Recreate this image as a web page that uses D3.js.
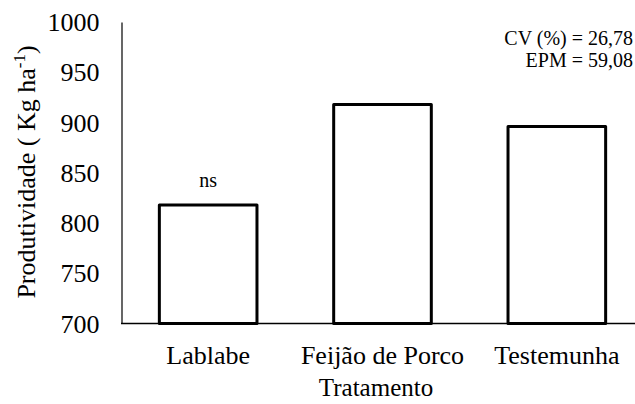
<!DOCTYPE html>
<html><head><meta charset="utf-8">
<script src="https://cdn.jsdelivr.net/npm/d3@7"></script>
<style>
body{margin:0;background:#fff;}
svg text, svg tspan { font-family: 'Liberation Serif', 'Times New Roman', serif !important; }
</style></head>
<body><svg id="c" width="635" height="404" style="font-family:'Liberation Serif', serif"></svg>
<script>
const categories = ["Lablabe", "Feijão de Porco", "Testemunha"];
const values = [818, 918, 896];
const barLabels = ["ns", "", ""];
const yTicks = [700, 750, 800, 850, 900, 950, 1000];
const statsText = ["CV (%) = 26,78", "EPM = 59,08"];

const svg = d3.select("#c");
const x = d3.scaleBand().domain(categories).range([121, 644]).paddingInner(0.44).paddingOuter(0.22);
const y = d3.scaleLinear().domain([700, 1000]).range([323.5, 22]);

// bars
svg.selectAll("rect.bar").data(values).enter().append("rect")
  .attr("x", (d,i) => x(categories[i]))
  .attr("width", x.bandwidth())
  .attr("y", d => y(d))
  .attr("height", d => y(700) - y(d))
  .attr("fill", "#fff").attr("stroke", "#000").attr("stroke-width", 3)
  .attr("stroke-linejoin", "round");

// y axis
const yAxis = d3.axisLeft(y).tickValues(yTicks).tickSize(0).tickPadding(22).tickFormat(d3.format("d"));
const gy = svg.append("g").attr("transform", "translate(121.5,0)").call(yAxis);
gy.attr("font-family", null).attr("font-size", null);
gy.select(".domain").attr("stroke", "#000").attr("stroke-width", 1.2);
gy.selectAll("text").attr("fill", "#000").attr("font-size", 26).attr("dy", "0.33em");

// x axis line
svg.append("line").attr("x1", 121).attr("x2", 635).attr("y1", y(700)).attr("y2", y(700))
  .attr("stroke", "#000").attr("stroke-width", 1.5);

// x labels
svg.selectAll("text.xl").data(categories).enter().append("text")
  .attr("x", d => x(d) + x.bandwidth()/2).attr("y", 364)
  .attr("text-anchor", "middle").attr("font-size", 26).text(d => d);

// bar annotations
svg.selectAll("text.bl").data(values).enter().append("text")
  .attr("x", (d,i) => x(categories[i]) + x.bandwidth()/2)
  .attr("y", d => y(d) - 17.5)
  .attr("text-anchor", "middle").attr("font-size", 20)
  .text((d,i) => barLabels[i]);

// x title
svg.append("text").attr("x", 376).attr("y", 396).attr("text-anchor", "middle")
  .attr("font-size", 25).text("Tratamento");

// y title
const yt = svg.append("text").attr("transform", "translate(35,172) rotate(-90)")
  .attr("text-anchor", "middle").attr("font-size", 26);
yt.append("tspan").text("Produtividade ( Kg ha");
yt.append("tspan").attr("font-size", 17).attr("dy", -10).text("-1");
yt.append("tspan").attr("dy", 10).text(")");

// stats
svg.selectAll("text.st").data(statsText).enter().append("text")
  .attr("x", 633).attr("y", (d,i) => 45 + i*22)
  .attr("text-anchor", "end").attr("font-size", 20).text(d => d);
</script></body></html>
